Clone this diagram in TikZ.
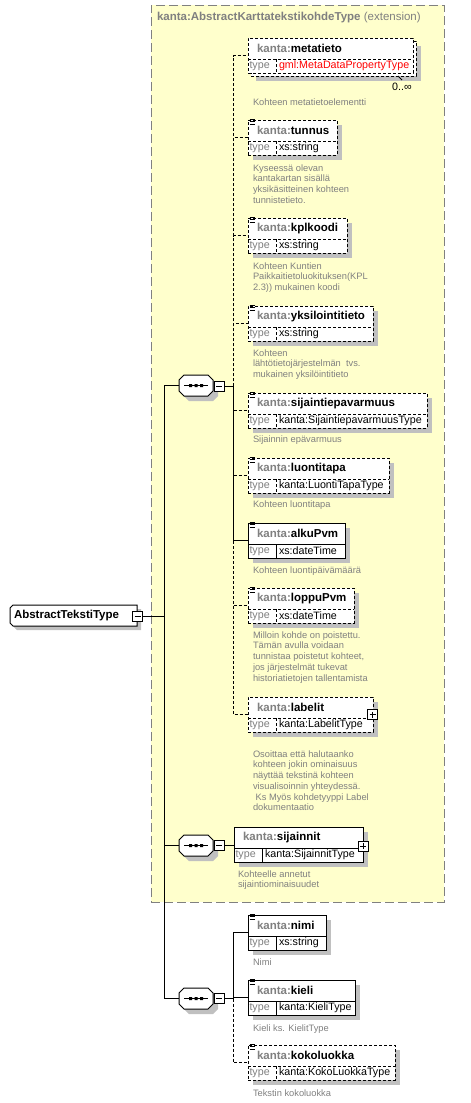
\documentclass[tikz,border=0pt]{standalone}
\usepackage{fontspec}
\setmainfont{Liberation Sans}
\definecolor{extfill}{HTML}{FFFFCC}
\definecolor{extborder}{HTML}{808080}
\definecolor{shadowc}{HTML}{C0C0C0}
\definecolor{graytxt}{HTML}{808080}
% element box: #1 name #2 x1 #3 top #4 x2 #5 style #6 prefix #7 local #8 type #9 shadow fill
\newcommand{\xsdel}[9]{%
  \path[fill=#9] (#2+5,#3+5) rectangle (#4+5,#3+40);
  \node[elbox,#5,minimum width={#4-#2},minimum height=35] (#1) at (#2,#3) {};
  \draw[#5] (#2,#3+21) -- (#4,#3+21) (#2+28,#3+21) -- (#2+28,#3+35);
  \node[hdr] (#1-h) at (#2+9,#3+10.5) {\textcolor{graytxt}{#6}#7};
  \node[typelbl] (#1-tl) at (#2+1.5,#3+28) {type};
  \node[typetxt] (#1-t) at (#2+31,#3+28) {#8};
}
\newcommand{\docicon}[2]{%
  \draw[line width=0.8pt] (#1+1.5,#2-1) -- ++(5,0) (#1+1.5,#2+1.5) -- ++(5,0) (#1+1.5,#2+4) -- ++(5,0);
}
\newcommand{\octa}[6]{%
  \path[#1] (#2+#6,#3) -- (#4-#6,#3) -- (#4,#3+#6) -- (#4,#5-#6) -- (#4-#6,#5) -- (#2+#6,#5) -- (#2,#5-#6) -- (#2,#3+#6) -- cycle;
}
\newcommand{\lchamf}[6]{%
  \path[#1] (#2+#6,#3) -- (#4,#3) -- (#4,#5) -- (#2+#6,#5) -- (#2,#5-#6) -- (#2,#3+#6) -- cycle;
}
% compositor: #1 name, #2 x1, #3 y1
\newcommand{\seqcomp}[3]{%
  \octa{fill=shadowc}{#2+5}{#3+5}{#2+39}{#3+26}{5}
  \octa{draw=black,fill=white}{#2}{#3}{#2+34}{#3+21}{5}
  \node[minimum width=34,minimum height=21] (#1) at (#2+17,#3+10.5) {};
  \draw (#2+5,#3+10.5) -- (#2+29,#3+10.5);
  \fill (#2+10,#3+9) rectangle ++(3,3) (#2+15.5,#3+9) rectangle ++(3,3) (#2+21,#3+9) rectangle ++(3,3);
}
\newcommand{\minusbox}[3]{%
  \node[draw=black,fill=white,minimum width=10,minimum height=10] (#1) at (#2,#3) {};
  \draw ([xshift=2pt]#1.west) -- ([xshift=-2pt]#1.east);
}
\newcommand{\plusbox}[3]{%
  \node[draw=black,fill=white,minimum width=10,minimum height=10] (#1) at (#2,#3) {};
  \draw ([xshift=2pt]#1.west) -- ([xshift=-2pt]#1.east) ([yshift=2pt]#1.south) -- ([yshift=-2pt]#1.north);
}
\begin{document}
\begin{tikzpicture}[x=1pt,y=-1pt,line width=1pt,
  every node/.style={inner sep=0pt,outer sep=0pt},
  elbox/.style={draw=black,fill=white,anchor=north west},
  dsh/.style={dash pattern=on 3pt off 2pt},
  hdr/.style={anchor=west,font=\fontsize{11.5}{13}\selectfont\bfseries},
  typelbl/.style={anchor=west,font=\fontsize{10.7}{12}\selectfont,text=graytxt},
  typetxt/.style={anchor=west,font=\fontsize{10.7}{12}\selectfont},
  desc/.style={anchor=north west,align=left,font=\fontsize{9.3}{10.7}\selectfont,text=graytxt},
  ]
\useasboundingbox (0,0) rectangle (471,1103);

% extension box
\node[draw=extborder,fill=extfill,dash pattern=on 9pt off 4pt,anchor=north west,
      minimum width=293,minimum height=897] (ext) at (151,5) {};
\node[anchor=west,text=graytxt,font=\fontsize{11.5}{13}\selectfont] (exttitle) at (157,18)
  {\textbf{kanta:AbstractKarttatekstikohdeType} (extension)};

% root type
\lchamf{fill=shadowc}{14}{609}{141}{630}{3}
\lchamf{draw=black,fill=white}{10}{605}{137}{626}{3}
\node[minimum width=127,minimum height=21] (root) at (73.5,615.5) {};
\node[anchor=west,font=\fontsize{11.5}{13}\selectfont\bfseries] (roottxt) at (14,615.5) {AbstractTekstiType};
\minusbox{rootm}{137.5}{616}
\coordinate (mj) at (164,616);

% compositors
\seqcomp{seq1}{179}{375}
\minusbox{m1}{219}{386}
\coordinate (j1) at (233,386);
\seqcomp{seq2}{179}{835}
\minusbox{m2}{219}{845.5}
\seqcomp{seq3}{179}{988}
\minusbox{m3}{219}{998.5}
\coordinate (j3) at (233,998.5);

% metatieto (multiple)
\fill[shadowc] (256,46) rectangle (421,81);
\node[elbox,dsh,minimum width=165,minimum height=35] (metaback) at (251,41) {};
\xsdel{meta}{248}{38}{413}{dsh}{kanta:}{metatieto}{\textcolor{red}{gml:MetaDataPropertyType}}{none}
\draw[line width=0.8pt] (398,76) -- (402,80);
\node[font=\fontsize{10.7}{12}\selectfont] (metamult) at (402,87) {0..\char"221E};
\node[desc] (metad) at (253,98.5) {Kohteen metatietoelementti};

\xsdel{tunnus}{248}{120}{337}{dsh}{kanta:}{tunnus}{xs:string}{shadowc}
\docicon{248}{120}
\node[desc] (tunnusd) at (253,164.5) {Kyseessä olevan\\kantakartan sisällä\\yksikäsitteinen kohteen\\tunnistetieto.};

\xsdel{kpl}{248}{218}{347}{dsh}{kanta:}{kplkoodi}{xs:string}{shadowc}
\docicon{248}{218}
\node[desc] (kpld) at (253,262.5) {Kohteen Kuntien\\Paikkaitietoluokituksen(KPL\\2.3)) mukainen koodi};

\xsdel{yks}{248}{306}{373}{dsh}{kanta:}{yksilointitieto}{xs:string}{shadowc}
\docicon{248}{306}
\node[desc] (yksd) at (253,349.5) {Kohteen\\lähtötietojärjestelmän~~tvs.\\mukainen yksilöintitieto};

\xsdel{sij}{248}{393}{427}{dsh}{kanta:}{sijaintiepavarmuus}{kanta:SijaintiepavarmuusType}{shadowc}
\docicon{248}{393}
\node[desc] (sijd) at (253,435.5) {Sijainnin epävarmuus};

\xsdel{luo}{248}{458}{389}{dsh}{kanta:}{luontitapa}{kanta:LuontiTapaType}{shadowc}
\docicon{248}{458}
\node[desc] (luod) at (253,500.5) {Kohteen luontitapa};

\xsdel{alku}{248}{523}{345}{solid}{kanta:}{alkuPvm}{xs:dateTime}{shadowc}
\docicon{248}{523}
\node[desc] (alkud) at (253,566.5) {Kohteen luontipäivämäärä};

\xsdel{loppu}{248}{588}{354}{dsh}{kanta:}{loppuPvm}{xs:dateTime}{shadowc}
\docicon{248}{588}
\node[desc] (loppud) at (253,631.5) {Milloin kohde on poistettu.\\Tämän avulla voidaan\\tunnistaa poistetut kohteet,\\jos järjestelmät tukevat\\historiatietojen tallentamista};

\xsdel{lab}{248}{697}{373}{dsh}{kanta:}{labelit}{kanta:LabelitType}{shadowc}
\plusbox{labp}{372.5}{714.5}
\node[desc] (labd) at (253,750.5) {Osoittaa että halutaanko\\kohteen jokin ominaisuus\\näyttää tekstinä kohteen\\visualisoinnin yhteydessä.\\\ Ks Myös kohdetyyppi Label\\dokumentaatio};

\xsdel{siji}{234}{827}{363}{solid}{kanta:}{sijainnit}{kanta:SijainnitType}{shadowc}
\plusbox{sijip}{363}{846}
\node[desc] (sijid) at (238,870.5) {Kohteelle annetut\\sijaintiominaisuudet};

\xsdel{nimi}{248}{915}{326}{solid}{kanta:}{nimi}{xs:string}{shadowc}
\docicon{248}{915}
\node[desc] (nimid) at (253,958.5) {Nimi};

\xsdel{kieli}{248}{980}{355}{solid}{kanta:}{kieli}{kanta:KieliType}{shadowc}
\docicon{248}{980}
\node[desc] (kielid) at (253,1024.5) {Kieli ks. KielitType};

\xsdel{koko}{248}{1045}{395}{dsh}{kanta:}{kokoluokka}{kanta:KokoLuokkaType}{shadowc}
\docicon{248}{1045}
\node[desc] (kokod) at (253,1089.5) {Tekstin kokoluokka};

% connectors
\draw (rootm.east) -- (mj);
\draw (mj) |- (seq1.west);
\draw (mj) |- (seq2.west);
\draw (mj) |- (seq3.west);

\draw (m1.east) -- (j1);
\draw[dsh] (j1) |- (meta.west);
\draw[dsh] (j1) |- (tunnus.west);
\draw[dsh] (j1) |- (kpl.west);
\draw[dsh] (j1) |- (yks.west);
\draw[dsh] (j1) |- (loppu.west);
\draw[dsh] (j1) |- (lab.west);
\draw (j1) |- (alku.west);
\draw[dsh] (j1) |- (sij.west);
\draw[dsh] (j1) |- (luo.west);

\draw (m2.east) -- (m2.east -| siji.west);

\draw (m3.east) -- (j3);
\draw (j3) |- (nimi.west);
\draw (j3) |- (kieli.west);
\draw[dsh] (j3) |- (koko.west);
\end{tikzpicture}
\end{document}
